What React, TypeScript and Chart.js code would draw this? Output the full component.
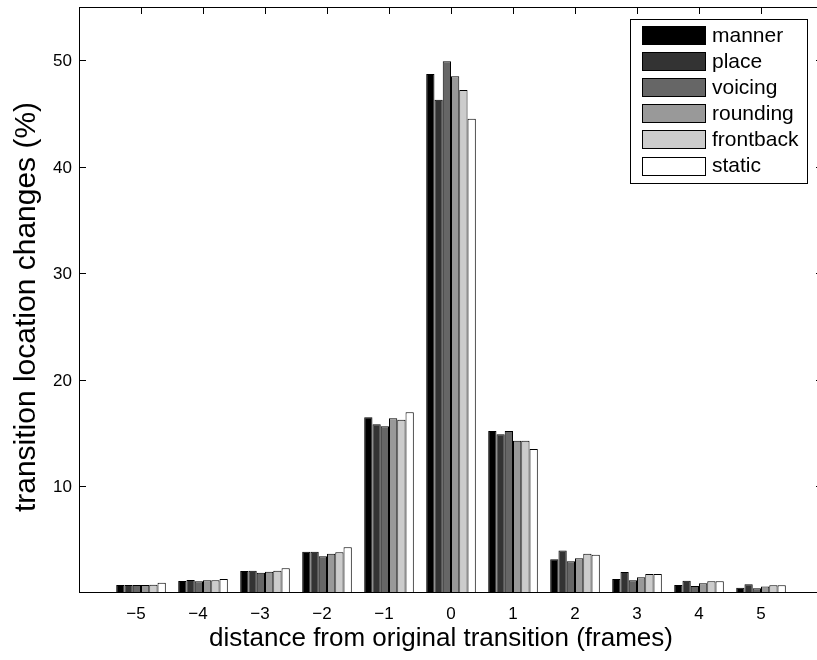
import React, { useEffect, useRef } from "react";
import { Chart, registerables } from "chart.js";

Chart.register(...registerables);

const categories = ["−6", "−5", "−4", "−3", "−2", "−1", "0", "1", "2", "3", "4", "5", "6"];
const xTickLabels = ["−5", "−4", "−3", "−2", "−1", "0", "1", "2", "3", "4", "5"];
const yTickValues = [10, 20, 30, 40, 50];
const seriesNames = ["manner", "place", "voicing", "rounding", "frontback", "static"];
const seriesColors = ["#000000", "#333333", "#666666", "#999999", "#cccccc", "#ffffff"];

const manner = [0.75, 1.13, 2.07, 3.88, 16.5, 48.7, 15.2, 3.16, 1.31, 0.75, 0.5];
const place = [0.75, 1.22, 2.1, 3.88, 15.85, 46.3, 14.9, 4.0, 1.97, 1.16, 0.82];
const voicing = [0.75, 1.1, 1.9, 3.45, 15.65, 49.9, 15.2, 2.97, 1.19, 0.66, 0.44];
const rounding = [0.75, 1.19, 2.0, 3.69, 16.4, 48.5, 14.3, 3.26, 1.47, 0.91, 0.6];
const frontback = [0.78, 1.19, 2.1, 3.82, 16.27, 47.2, 14.3, 3.69, 1.78, 1.1, 0.72];
const staticSeries = [0.97, 1.31, 2.32, 4.29, 16.97, 44.5, 13.52, 3.6, 1.78, 1.1, 0.72];

const allSeries = [manner, place, voicing, rounding, frontback, staticSeries];

const FONT = '"Liberation Sans", Arial, Helvetica, sans-serif';

const decorPlugin = {
  id: "matlabDecor",
  beforeDatasetsDraw(chart: any) {
    const ctx = chart.ctx;
    const { left, right, top, bottom } = chart.chartArea;
    ctx.save();
    ctx.fillStyle = "#ffffff";
    ctx.fillRect(left, top, right - left, bottom - top);
    ctx.restore();
  },
  afterDatasetsDraw(chart: any) {
    const ctx = chart.ctx;
    const { left, right, top, bottom } = chart.chartArea;
    const xs = chart.scales.x;
    const ys = chart.scales.y;
    const tickLen = 7;
    ctx.save();
    ctx.strokeStyle = "#000";
    ctx.lineWidth = 1;
    // box
    ctx.strokeRect(Math.round(left) + 0.5, Math.round(top) + 0.5, Math.round(right - left) - 1, Math.round(bottom - top) - 1);
    // y ticks
    ctx.beginPath();
    yTickValues.forEach((v) => {
      const y = Math.round(ys.getPixelForValue(v)) + 0.5;
      ctx.moveTo(left, y);
      ctx.lineTo(left + tickLen, y);
      ctx.moveTo(right, y);
      ctx.lineTo(right - tickLen, y);
    });
    // x ticks (top)
    xTickLabels.forEach((_, i) => {
      const x = Math.round(xs.getPixelForValue(i + 1)) + 0.5;
      ctx.moveTo(x, top);
      ctx.lineTo(x, top + tickLen);
    });
    ctx.stroke();

    ctx.fillStyle = "#000";
    // y tick labels
    ctx.font = `17px ${FONT}`;
    ctx.textAlign = "right";
    ctx.textBaseline = "middle";
    yTickValues.forEach((v) => {
      const y = ys.getPixelForValue(v);
      ctx.fillText(String(v), left - 7, y + 1);
    });
    // x tick labels (digits centred on tick, minus hangs left)
    ctx.textBaseline = "alphabetic";
    xTickLabels.forEach((lab, i) => {
      const x = xs.getPixelForValue(i + 1);
      const digits = lab.replace("−", "");
      const w = ctx.measureText(digits).width;
      ctx.textAlign = "right";
      ctx.fillText(lab, x + w / 2, 619);
    });

    // axis titles
    ctx.font = `26px ${FONT}`;
    ctx.textAlign = "center";
    ctx.fillText("distance from original transition (frames)", 441, 646);
    ctx.save();
    ctx.font = `30px ${FONT}`;
    ctx.translate(35, 307);
    ctx.rotate(-Math.PI / 2);
    ctx.fillText("transition location changes (%)", 0, 0);
    ctx.restore();

    // legend
    const lx = 630, ly = 19, lw = 177, lh = 164;
    ctx.fillStyle = "#fff";
    ctx.fillRect(lx, ly, lw, lh);
    ctx.strokeRect(lx + 0.5, ly + 0.5, lw, lh);
    ctx.font = `21px ${FONT}`;
    ctx.textAlign = "left";
    ctx.textBaseline = "middle";
    chart.data.datasets.forEach((ds: any, i: number) => {
      const sy = 26 + i * 26.1;
      ctx.fillStyle = ds.backgroundColor;
      ctx.fillRect(642, Math.round(sy), 64, 19);
      ctx.strokeStyle = "#000";
      ctx.strokeRect(642.5, Math.round(sy) + 0.5, 63, 18);
      ctx.fillStyle = "#000";
      ctx.fillText(ds.label, 712, sy + 10);
    });
    ctx.restore();
  },
};

export default function App() {
  const ref = useRef<HTMLCanvasElement | null>(null);
  useEffect(() => {
    if (!ref.current) return;
    document.body.style.margin = "0";
    document.body.style.overflow = "hidden";
    const chart = new Chart(ref.current, {
      type: "bar",
      data: {
        labels: categories,
        datasets: allSeries.map((s, i) => ({
          label: seriesNames[i],
          data: [null, ...s, null],
          backgroundColor: seriesColors[i],
          borderColor: "#000000",
          borderWidth: 1,
          borderSkipped: false,
          categoryPercentage: 0.8,
          barPercentage: 1.0,
        })),
      },
      options: {
        responsive: false,
        animation: false,
        devicePixelRatio: 1,
        layout: { padding: { left: 79, right: 7, top: 7, bottom: 67 } },
        plugins: { legend: { display: false }, tooltip: { enabled: false } },
        scales: {
          x: { type: "category", offset: false, display: false, grid: { offset: false } },
          y: { type: "linear", min: 0, max: 55, display: false },
        },
      },
      plugins: [decorPlugin],
    });
    return () => chart.destroy();
  }, []);
  return (
    <div style={{ position: "fixed", left: 0, top: 0, width: 817, height: 660, overflow: "hidden", background: "#fff" }}>
      <canvas ref={ref} width={830} height={660} style={{ display: "block", width: 830, height: 660 }} />
    </div>
  );
}
